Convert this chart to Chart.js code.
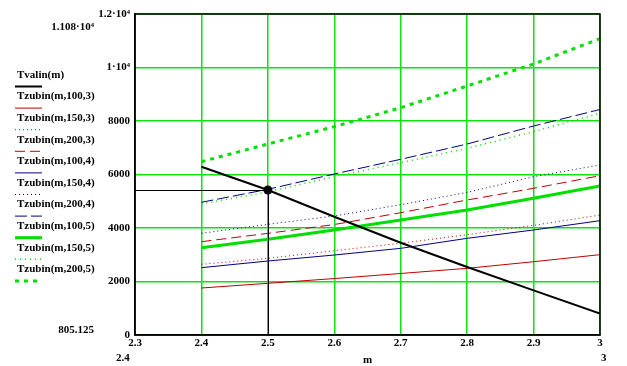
<!DOCTYPE html>
<html><head><meta charset="utf-8">
<script src="https://cdn.jsdelivr.net/npm/chart.js@4"></script>
<style>html,body{margin:0;padding:0;background:#fff;}canvas{display:block;}</style>
</head><body>
<canvas id="c" width="627" height="366"></canvas>
<script>
const mValues = [2.4, 2.5, 2.6, 2.7, 2.8, 2.9, 3.0];
const Tvalin   = [6290, 5421, 4420, 3450, 2540, 1670, 805];
const Tz100_3  = [1757, 1932, 2110, 2300, 2492, 2740, 3003];
const Tz150_3  = [2643, 2866, 3150, 3430, 3750, 4100, 4486];
const Tz200_3  = [3488, 3800, 4130, 4572, 5047, 5483, 5955];
const Tz100_4  = [2517, 2766, 2990, 3240, 3614, 3925, 4274];
const Tz150_4  = [3801, 4137, 4450, 4870, 5330, 5919, 6355];
const Tz200_4  = [4961, 5446, 6019, 6568, 7140, 7813, 8430];
const Tz100_5  = [3264, 3576, 3925, 4299, 4673, 5110, 5570];
const Tz150_5  = [4900, 5350, 5918, 6441, 6979, 7600, 8288];
const Tz200_5  = [6479, 7140, 7788, 8497, 9308, 10131, 11080];
const seriesLabels = ["Tvalin(m)","Tzubin(m,100,3)","Tzubin(m,150,3)","Tzubin(m,200,3)","Tzubin(m,100,4)","Tzubin(m,150,4)","Tzubin(m,200,4)","Tzubin(m,100,5)","Tzubin(m,150,5)","Tzubin(m,200,5)"];
const xTickLabels = ["2.3","2.4","2.5","2.6","2.7","2.8","2.9","3"];
const yTickLabels = {0:"0",2000:"2000",4000:"4000",6000:"6000",8000:"8000",10000:"1·10⁴",12000:"1.2·10⁴"};
const markerX = 2.5, markerY = 5421;
const markerLabels = {yMax:"1.108·10⁴", yMin:"805.125", xMin:"2.4", xMax:"3"};

const RED = "#c00000", BLUE = "#000080", GREEN = "#00e000", BLACK = "#000000";
const styles = [
  {c:BLACK, w:2, d:[]},
  {c:RED, w:1, d:[]},
  {c:RED, w:1, d:[1,3]},
  {c:RED, w:1, d:[10,5]},
  {c:BLUE, w:1, d:[]},
  {c:BLUE, w:1, d:[1,3]},
  {c:BLUE, w:1, d:[12,4]},
  {c:GREEN, w:3, d:[]},
  {c:GREEN, w:1.5, d:[1,4]},
  {c:GREEN, w:3, d:[4,5]},
];
const allSeries = [Tvalin,Tz100_3,Tz150_3,Tz200_3,Tz100_4,Tz150_4,Tz200_4,Tz100_5,Tz150_5,Tz200_5];
const datasets = allSeries.map((s,i)=>({
  label: seriesLabels[i],
  data: s.map((v,j)=>({x:mValues[j], y:v})),
  borderColor: styles[i].c, borderWidth: styles[i].w, borderDash: styles[i].d,
  pointRadius: 0, fill:false, tension:0
}));

const FONT = "bold 11px 'Liberation Serif', 'Times New Roman', serif";

const extras = {
  id:'extras',
  afterDatasetsDraw(chart){
    const ctx = chart.ctx, a = chart.chartArea, xs = chart.scales.x, ys = chart.scales.y;
    ctx.save();
    const px = xs.getPixelForValue(markerX), py = ys.getPixelForValue(markerY);
    ctx.strokeStyle = BLACK; ctx.lineWidth = 1; ctx.setLineDash([]);
    ctx.beginPath();
    ctx.moveTo(a.left, Math.round(py)+0.5); ctx.lineTo(px, Math.round(py)+0.5);
    ctx.moveTo(Math.round(px)+0.5, py); ctx.lineTo(Math.round(px)+0.5, a.bottom);
    ctx.stroke();
    ctx.fillStyle = BLACK;
    ctx.beginPath(); ctx.arc(px, py, 4.5, 0, Math.PI*2); ctx.fill();
    ctx.lineWidth = 1.5;
    ctx.strokeRect(a.left, a.top, a.right-a.left, a.bottom-a.top);
    ctx.font = FONT; ctx.textBaseline = 'middle'; ctx.textAlign = 'left';
    for (let i=0;i<seriesLabels.length;i++){
      const ty = 75 + i*21.6;
      ctx.fillStyle = BLACK;
      ctx.fillText(seriesLabels[i], 17, ty);
      ctx.strokeStyle = styles[i].c; ctx.lineWidth = styles[i].w; ctx.setLineDash(styles[i].d);
      ctx.beginPath(); ctx.moveTo(15, ty+11.5); ctx.lineTo(42, ty+11.5); ctx.stroke();
    }
    ctx.setLineDash([]);
    ctx.fillStyle = BLACK;
    ctx.textAlign = 'right';
    ctx.fillText(markerLabels.yMax, 94, 27);
    ctx.fillText(markerLabels.yMin, 94, 330);
    ctx.textAlign = 'left';
    ctx.fillText(markerLabels.xMin, 116, 358);
    ctx.fillText(markerLabels.xMax, 601, 358);
    ctx.textAlign = 'center';
    ctx.fillText('m', (a.left+a.right)/2, 360);
    ctx.restore();
  }
};

new Chart(document.getElementById('c'), {
  type:'line',
  data:{datasets},
  options:{
    responsive:false, animation:false,
    layout:{padding:{left:0,right:27,top:14,bottom:0}},
    plugins:{legend:{display:false}, tooltip:{enabled:false}},
    scales:{
      x:{type:'linear', min:2.3, max:3.0,
         afterBuildTicks:(s)=>{ s.ticks = xTickLabels.map(t=>({value: parseFloat(t)})); },
         ticks:{color:BLACK, font:{family:"'Liberation Serif', serif", size:11, weight:'bold'}, padding:2, maxRotation:0, autoSkip:false,
                callback:(v)=>xTickLabels.find(t=>Math.abs(parseFloat(t)-v)<1e-6) ?? ''},
         grid:{color:'#10e010', lineWidth:1.5, drawTicks:false},
         border:{color:BLACK, width:1.5},
         afterFit:(s)=>{s.height = 31;}},
      y:{type:'linear', min:0, max:12000,
         ticks:{stepSize:2000, color:BLACK, font:{family:"'Liberation Serif', serif", size:11, weight:'bold'}, padding:5,
                callback:(v)=>yTickLabels[v] ?? ''},
         grid:{color:'#10e010', lineWidth:1.5, drawTicks:false},
         border:{color:BLACK, width:1.5},
         afterFit:(s)=>{s.width = 135;}}
    }
  },
  plugins:[extras]
});
</script>
</body></html>
